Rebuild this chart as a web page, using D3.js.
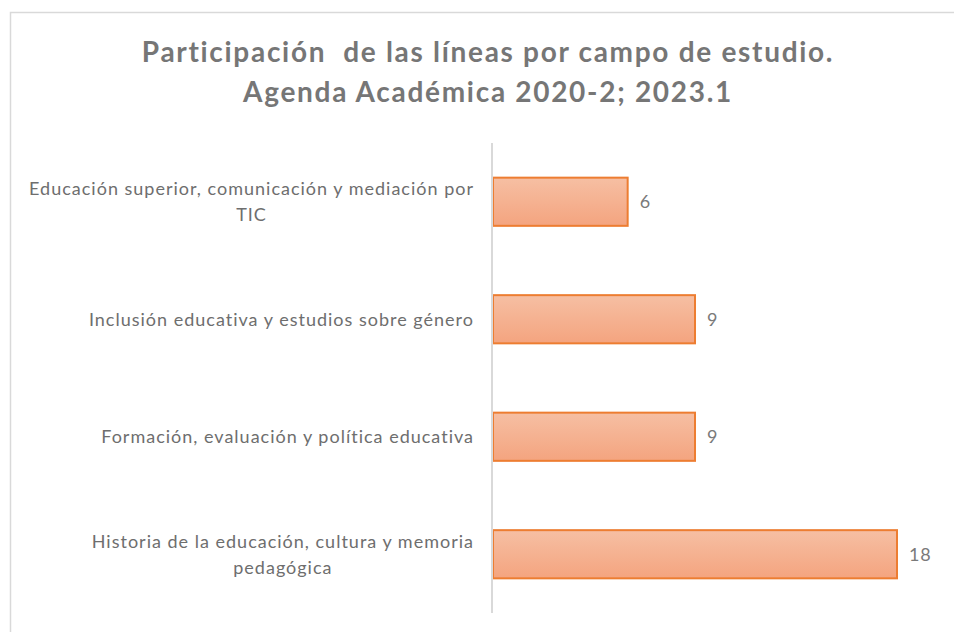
<!DOCTYPE html>
<html>
<head>
<meta charset="utf-8">
<script src="https://cdn.jsdelivr.net/npm/d3@7"></script>
<style>
  body { margin: 0; background: #fff; }
  svg { display: block; font-family: Lato, "Open Sans", sans-serif; }
</style>
</head>
<body>
<svg id="chart" width="954" height="632"></svg>
<script>
const categories = [
    "Educación superior, comunicación y mediación por|TIC",
    "Inclusión educativa y estudios sobre género",
    "Formación, evaluación y política educativa",
    "Historia de la educación, cultura y memoria|pedagógica"
];
const values = [6, 9, 9, 18];
const titleLines = ["Participación\u00a0 de las líneas por campo de estudio.", "Agenda Académica 2020-2; 2023.1"];

const svg = d3.select("#chart"),
      width = +svg.attr("width"),
      height = +svg.attr("height");

// chart frame (only top/left edges visible in the crop)
svg.append("rect")
    .attr("x", 10.5).attr("y", 12.5)
    .attr("width", 1000).attr("height", 700)
    .attr("fill", "#fff")
    .attr("stroke", "#d9d9d9")
    .attr("stroke-width", 1.5);

const defs = svg.append("defs");
const grad = defs.append("linearGradient")
    .attr("id", "barGrad")
    .attr("x1", 0).attr("y1", 0).attr("x2", 0).attr("y2", 1);
grad.append("stop").attr("offset", "0%").attr("stop-color", "#f6bfa3");
grad.append("stop").attr("offset", "100%").attr("stop-color", "#f4a47f");

// title
svg.append("g").selectAll("text")
    .data(titleLines)
    .enter().append("text")
    .attr("x", 488)
    .attr("y", (d, i) => 62 + i * 40)
    .attr("text-anchor", "middle")
    .attr("font-size", 28)
    .attr("font-weight", "bold")
    .attr("letter-spacing", 1.7)
    .attr("fill", "#767676")
    .text(d => d);

const x = d3.scaleLinear()
    .domain([0, 18])
    .range([493, 897]);

const y = d3.scaleBand()
    .domain(categories)
    .range([143, 613])
    .paddingInner(0.59)
    .paddingOuter(0.295);

// bars
svg.append("g").selectAll("rect")
    .data(values)
    .enter().append("rect")
    .attr("x", x(0))
    .attr("y", (d, i) => y(categories[i]))
    .attr("width", d => x(d) - x(0))
    .attr("height", y.bandwidth())
    .attr("fill", "url(#barGrad)")
    .attr("stroke", "#ed7d31")
    .attr("stroke-width", 2);

// category axis line
svg.append("line")
    .attr("x1", 492).attr("x2", 492)
    .attr("y1", 143).attr("y2", 613)
    .attr("stroke", "#d9d9d9")
    .attr("stroke-width", 2);

// value labels
svg.append("g").selectAll("text")
    .data(values)
    .enter().append("text")
    .attr("x", d => x(d) + 12)
    .attr("y", (d, i) => y(categories[i]) + y.bandwidth() / 2)
    .attr("dy", "0.35em")
    .attr("font-size", 18)
    .attr("letter-spacing", 0.8)
    .attr("fill", "#7a7a7a")
    .text(d => d);

// category labels: lines centred on each other, block right-aligned
const labelRight = 474;
categories.forEach(c => {
    const lines = c.split("|");
    const cy = y(c) + y.bandwidth() / 2;
    const g = svg.append("g");
    const texts = lines.map((l, i) => g.append("text")
        .attr("y", cy + (i - (lines.length - 1) / 2) * 26)
        .attr("dy", "0.35em")
        .attr("font-size", 18)
        .attr("letter-spacing", 1)
        .attr("fill", "#6e6e6e")
        .attr("text-anchor", "middle")
        .text(l));
    const maxW = d3.max(texts, t => t.node().getComputedTextLength());
    texts.forEach(t => t.attr("x", labelRight - maxW / 2));
});
</script>
</body>
</html>
